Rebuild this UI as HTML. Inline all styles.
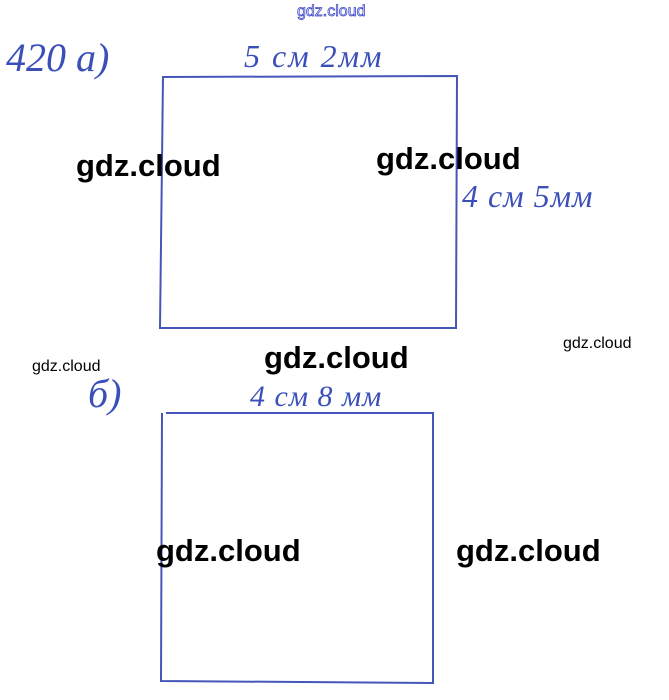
<!DOCTYPE html>
<html><head><meta charset="utf-8"><style>
body{margin:0;width:669px;height:700px;background:#fff;position:relative;overflow:hidden;font-family:"Liberation Sans",sans-serif}
.w{position:absolute;font-weight:bold;color:#000;font-size:31px;line-height:1}
.s{position:absolute;color:#000;font-size:16px;line-height:1}
.h{position:absolute;color:#3a4fb8;font-family:"Liberation Serif",serif;font-style:italic;line-height:1}
</style></head><body>
<div style="position:absolute;left:297px;top:3px;font-size:16px;color:#fff;-webkit-text-stroke:0.8px #3b48c8;font-family:'Liberation Sans',sans-serif">gdz.cloud</div>
<svg width="669" height="700" style="position:absolute;left:0;top:0">
<g fill="none" stroke="#4656b8" stroke-width="2">
<path d="M163 77 L457 76 L456 328 L160 328 Z"/>
<path d="M166 413 L433 413 L433 683 L161 681 L162 413"/>
</g>
</svg>
<div class="h" style="left:6px;top:38px;font-size:40px">420 a)</div>
<div class="h" style="left:244px;top:40px;font-size:32px;letter-spacing:2px">5 см 2мм</div>
<div class="h" style="left:462px;top:180px;font-size:32px;letter-spacing:1px">4 см 5мм</div>
<div class="h" style="left:88px;top:374px;font-size:40px">б)</div>
<div class="h" style="left:250px;top:382px;font-size:30px;letter-spacing:1px">4 см 8 мм</div>
<div class="w" style="left:76px;top:150px">gdz.cloud</div>
<div class="w" style="left:376px;top:143px">gdz.cloud</div>
<div class="w" style="left:264px;top:342px">gdz.cloud</div>
<div class="w" style="left:156px;top:535px">gdz.cloud</div>
<div class="w" style="left:456px;top:535px">gdz.cloud</div>
<div class="s" style="left:563px;top:336px">gdz.cloud</div>
<div class="s" style="left:32px;top:359px">gdz.cloud</div>
</body></html>
